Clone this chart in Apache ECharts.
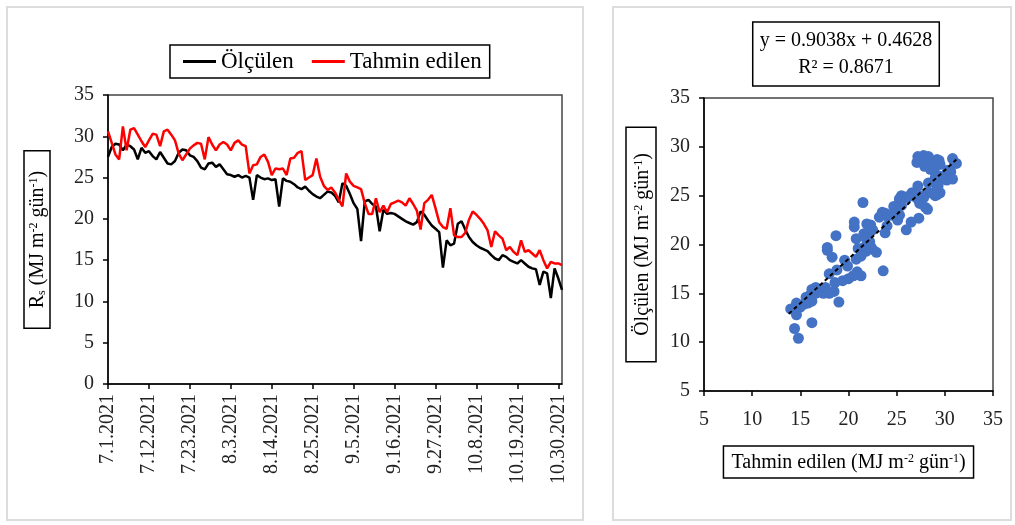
<!DOCTYPE html>
<html>
<head>
<meta charset="utf-8">
<script src="https://cdn.jsdelivr.net/npm/echarts@6/dist/echarts.min.js"></script>
<style>
html,body{margin:0;padding:0;background:#fff;}
#chart{width:1015px;height:525px;}
</style>
</head>
<body>
<div id="chart"></div>
<script>
// Measured global solar radiation (Ölçülen), 7.1.2021 – 10.31.2021
const measured = [
27.5,28.7,29.1,29.0,28.3,29.0,28.8,28.4,27.2,28.6,
28.0,28.2,27.6,27.2,28.1,27.4,26.7,26.6,27.0,28.0,
28.4,28.3,27.7,27.5,27.0,26.2,26.0,26.7,26.8,26.3,
26.6,26.0,25.4,25.3,25.1,25.3,25.0,25.2,25.0,22.3,
25.3,25.0,24.8,24.9,24.7,24.8,21.5,24.9,24.6,24.5,
24.2,23.8,23.6,23.9,23.4,23.0,22.7,22.5,22.9,23.3,
23.2,22.8,22.0,24.3,24.0,23.0,21.9,21.2,17.3,22.1,
22.3,21.8,21.5,18.5,21.1,20.6,20.7,20.6,20.3,20.0,
19.7,19.5,19.3,19.6,20.9,20.5,19.8,19.2,18.8,18.4,
14.1,17.4,16.8,17.0,19.4,19.7,18.7,17.8,17.2,16.8,
16.5,16.3,16.1,15.6,15.2,15.0,15.6,15.4,15.0,14.8,
14.6,15.0,14.6,14.2,14.0,13.9,12.0,13.6,13.4,10.4,
14.0,12.8,11.4
];
// Predicted (Tahmin edilen)
const predicted = [
30.6,29.2,27.8,27.2,31.2,28.3,30.8,31.0,30.2,29.4,
28.7,29.5,30.3,30.2,28.8,30.6,30.8,30.2,29.5,27.9,
27.1,27.8,28.5,28.9,29.2,29.1,27.2,29.9,29.0,28.3,
29.0,29.3,29.0,28.3,29.2,29.5,29.0,28.8,25.5,26.5,
26.6,27.5,27.8,26.9,25.3,26.1,26.0,26.1,25.3,27.3,
27.4,28.0,28.2,24.7,25.0,25.3,27.3,25.1,24.0,23.5,
23.8,23.2,22.3,21.5,25.5,24.5,24.0,23.8,23.6,21.9,
20.6,20.6,22.5,20.8,21.6,20.8,21.8,22.0,22.2,22.0,
21.6,22.5,21.8,21.0,18.7,21.9,22.3,22.9,21.3,19.6,
19.0,18.8,21.3,18.0,17.8,17.8,18.3,19.9,20.9,20.5,
20.0,19.4,18.6,16.6,18.5,18.0,17.6,16.2,16.6,16.0,
15.6,17.4,16.0,16.2,15.8,15.4,16.2,15.0,14.0,14.8,
14.6,14.6,14.4
];
// Trendline end points
const trendX = [13.8, 31.2];
const trendY = [12.9, 28.7];
const yTicksLeft = [0, 35, 5];
const scatterTicks = [5, 35, 5];

// Category labels: daily dates
const dates = [];
(function(){
  const start = new Date(2021, 6, 1), end = new Date(2021, 9, 31);
  for (let d = new Date(start); d <= end; d.setDate(d.getDate()+1)) {
    dates.push((d.getMonth()+1) + '.' + d.getDate() + '.' + d.getFullYear());
  }
})();

const scatterData = predicted.map((p, i) => [p, measured[i]]);
const trendData = trendX.map((x, i) => [x, trendY[i]]);

const FONT = '"Liberation Serif", "Times New Roman", serif';
const FS = 20;
const supRich = {
  sup: {fontFamily: FONT, fontSize: 12, lineHeight: 12, verticalAlign: 'top', color: '#000'},
  sub: {fontFamily: FONT, fontSize: 12, lineHeight: 12, verticalAlign: 'bottom', color: '#000'}
};

const chart = echarts.init(document.getElementById('chart'), null, {renderer: 'canvas'});
const axisCommon = {
  axisLine: {show: true, lineStyle: {color: '#000', width: 1.5}},
  axisTick: {show: true, inside: false, length: 5, lineStyle: {color: '#000', width: 1.5}},
  splitLine: {show: false},
  axisLabel: {fontFamily: FONT, fontSize: FS, color: '#222'}
};

chart.setOption({
  animation: false,
  backgroundColor: '#fff',
  graphic: [
    {type: 'rect', shape: {x: 7, y: 7, width: 576, height: 513}, style: {fill: 'none', stroke: '#dcdcdc', lineWidth: 2}, z: -1},
    {type: 'rect', shape: {x: 613, y: 7, width: 398, height: 513}, style: {fill: 'none', stroke: '#dcdcdc', lineWidth: 2}, z: -1},
    {type: 'text', x: 846, y: 54, style: {
      text: 'y = 0.9038x + 0.4628\nR² = 0.8671', font: FS + 'px ' + FONT, fill: '#000',
      align: 'center', verticalAlign: 'middle', lineHeight: 27,
      borderColor: '#000', borderWidth: 1.5, padding: [5, 7]
    }}
  ],
  legend: {
    left: 170, top: 45,
    data: ['Ölçülen', 'Tahmin edilen'],
    icon: 'rect', itemWidth: 33, itemHeight: 3, itemGap: 18,
    borderColor: '#000', borderWidth: 1.5, padding: [5, 8, 5, 13],
    textStyle: {fontFamily: FONT, fontSize: 23, color: '#000'}
  },
  grid: [
    {left: 108, top: 95, width: 454, height: 289, show: true, borderColor: '#444', borderWidth: 1.5, backgroundColor: 'transparent'},
    {left: 704, top: 98, width: 289, height: 293, show: true, borderColor: '#444', borderWidth: 1.5, backgroundColor: 'transparent'}
  ],
  xAxis: [
    Object.assign({}, axisCommon, {
      gridIndex: 0, type: 'category', data: dates, boundaryGap: false,
      axisTick: Object.assign({}, axisCommon.axisTick, {interval: 10}),
      axisLabel: Object.assign({}, axisCommon.axisLabel, {interval: 10, rotate: 90, margin: 10})
    }),
    Object.assign({}, axisCommon, {
      gridIndex: 1, type: 'value', min: scatterTicks[0], max: scatterTicks[1], interval: scatterTicks[2],
      axisLabel: Object.assign({}, axisCommon.axisLabel, {margin: 19}),
      name: 'Tahmin edilen (MJ m{sup|-2} gün{sup|-1})', nameLocation: 'middle', nameGap: 55,
      nameTextStyle: {fontFamily: FONT, fontSize: FS, color: '#000', borderColor: '#000', borderWidth: 1.5, padding: [7, 8, 5, 8], rich: supRich}
    })
  ],
  yAxis: [
    Object.assign({}, axisCommon, {
      gridIndex: 0, type: 'value', min: yTicksLeft[0], max: yTicksLeft[1], interval: yTicksLeft[2],
      axisLabel: Object.assign({}, axisCommon.axisLabel, {margin: 14}),
      name: 'R{sub|s} (MJ m{sup|-2} gün{sup|-1})', nameLocation: 'middle', nameGap: 58, nameRotate: 90,
      nameTextStyle: {fontFamily: FONT, fontSize: FS, color: '#000', borderColor: '#000', borderWidth: 1.5, padding: [4, 20, 2, 20], rich: supRich}
    }),
    Object.assign({}, axisCommon, {
      gridIndex: 1, type: 'value', min: scatterTicks[0], max: scatterTicks[1], interval: scatterTicks[2],
      axisLabel: Object.assign({}, axisCommon.axisLabel, {margin: 14}),
      name: 'Ölçülen (MJ m{sup|-2} gün{sup|-1})', nameLocation: 'middle', nameGap: 48, nameRotate: 90,
      nameTextStyle: {fontFamily: FONT, fontSize: FS, color: '#000', borderColor: '#000', borderWidth: 1.5, padding: [7, 26, 3, 26], rich: supRich}
    })
  ],
  series: [
    {name: 'Ölçülen', type: 'line', xAxisIndex: 0, yAxisIndex: 0, data: measured, showSymbol: false, symbol: 'none',
     lineStyle: {color: '#000', width: 2.5}, itemStyle: {color: '#000'}},
    {name: 'Tahmin edilen', type: 'line', xAxisIndex: 0, yAxisIndex: 0, data: predicted, showSymbol: false, symbol: 'none',
     lineStyle: {color: '#ff0000', width: 2.5}, itemStyle: {color: '#ff0000'}},
    {name: 'scatter', type: 'scatter', xAxisIndex: 1, yAxisIndex: 1, data: scatterData, symbolSize: 11,
     itemStyle: {color: '#4472c4', opacity: 1}},
    {name: 'trend', type: 'line', xAxisIndex: 1, yAxisIndex: 1, data: trendData, symbol: 'none',
     lineStyle: {color: '#000', width: 2, type: [4, 3]}, z: 5}
  ]
});
</script>
</body>
</html>
